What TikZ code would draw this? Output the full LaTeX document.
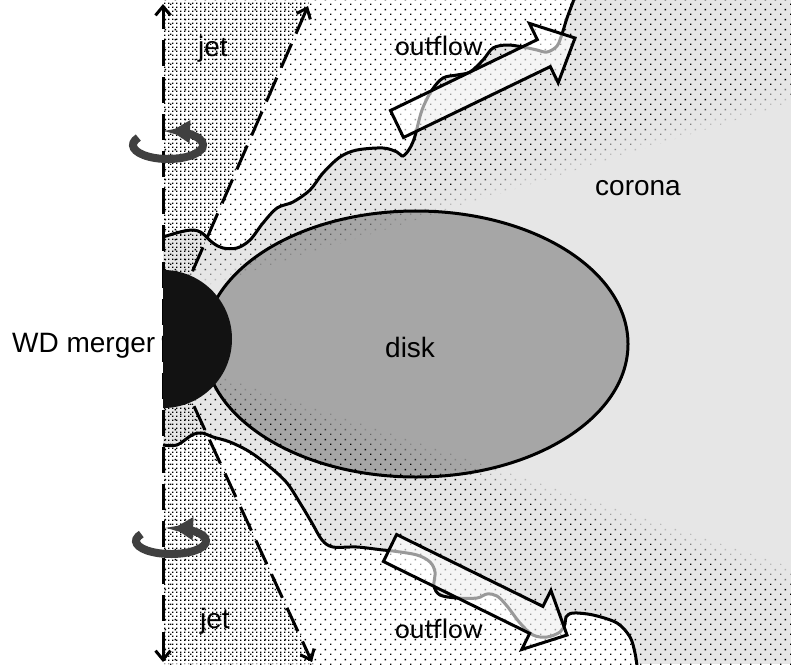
\documentclass[tikz,border=0pt]{standalone}
\usepackage{fontspec}
\setmainfont{Liberation Sans}
\newfontfamily\flowfont{Carlito}
\usetikzlibrary{arrows.meta,patterns}

% sparse staggered dots and a denser grid of dots
\pgfdeclarepatternformonly{sparsedots}{\pgfqpoint{0pt}{0pt}}{\pgfqpoint{10pt}{10pt}}{\pgfqpoint{10pt}{10pt}}{%
  \pgfpathrectangle{\pgfqpoint{0pt}{0pt}}{\pgfqpoint{1.6pt}{1.6pt}}%
  \pgfpathrectangle{\pgfqpoint{5pt}{5pt}}{\pgfqpoint{1.6pt}{1.6pt}}%
  \pgfusepath{fill}}
\pgfdeclarepatternformonly{densedots}{\pgfqpoint{0pt}{0pt}}{\pgfqpoint{4pt}{4pt}}{\pgfqpoint{4pt}{4pt}}{%
  \pgfpathrectangle{\pgfqpoint{0pt}{0pt}}{\pgfqpoint{1.7pt}{1.7pt}}%
  \pgfusepath{fill}}

\definecolor{coronagray}{HTML}{E6E6E6}
\definecolor{diskgray}{HTML}{A6A6A6}
\definecolor{spingray}{HTML}{404040}

% wavy fronts of the outflow
\def\TopFront{plot[smooth,tension=0.55] coordinates {(163,237) (180,232) (193,230) (202,233) (213,243) (223,248) (237,248) (250,240) (263,223) (277,208) (293,202) (310,190) (323,173) (340,157) (357,150) (383,148) (397,152) (403,156) (410,148) (415,136) (422,110) (432,90) (443,78) (457,75) (470,72) (483,60) (493,48) (507,45) (523,47) (537,50) (547,52) (557,46) (562,34) (567,18) (573,2) (574,-2)}}
\def\BottomFront{plot[smooth,tension=0.55] coordinates {(163,445) (177,445) (192,435) (202,433) (213,437) (230,442) (250,452) (270,467) (287,483) (300,503) (312,523) (322,540) (333,547) (357,547) (383,550) (393,551) (417,555) (430,562) (435,572) (434,586) (440,595) (457,598) (477,598) (487,594) (497,596) (507,606) (520,623) (533,635) (547,637) (560,632) (565,624) (566,617) (573,613) (593,615) (617,623) (630,637) (635,653) (637,666)}}
% wedge of the corona without dots, widened by #1
\newcommand\CoronaWedge[1]{(163,{299-#1}) -- (800,{100-#1}) -- (800,{570+#1}) -- (163,{357+#1}) -- cycle}

\begin{document}
\begin{tikzpicture}[x=1pt,y=-1pt,
  front/.style={draw=black,line width=3pt},
  axisline/.style={line width=3pt,dash pattern=on 26pt off 11pt,
    {Straight Barb[length=9pt,width=15pt]}-{Straight Barb[length=9pt,width=15pt]}},
  ray/.style={line width=3pt,dash pattern=on 26pt off 11pt,
    -{Straight Barb[length=9pt,width=15pt]}},
  flowarrow/.style={draw=black,line width=3pt,line join=miter,fill=white,fill opacity=0.6,draw opacity=1},
  spin/.style={draw=spingray,line width=8pt,-{Triangle[length=19pt,width=22pt]}},
  txt/.style={font=\fontsize{28}{33}\selectfont,inner sep=0pt,anchor=base west}]
\useasboundingbox (0,0) rectangle (791,664);
\fill[white] (0,0) rectangle (791,664);
\fill[coronagray] (163,0) rectangle (791,664);

% outer zones beyond the fronts
\fill[white] \TopFront -- (163,-2) -- cycle;
\fill[white] \BottomFront -- (163,666) -- cycle;

% disk body
\fill[diskgray] (416,344) ellipse [x radius=212, y radius=133];

% dotted envelope, fading towards the corona
\begin{scope}
  \clip (163,0) rectangle (791,664);
  \fill[pattern=sparsedots,even odd rule] (150,-10) rectangle (800,680) \CoronaWedge{24};
  \fill[pattern=sparsedots,even odd rule,fill opacity=0.7] \CoronaWedge{24} \CoronaWedge{16};
  \fill[pattern=sparsedots,even odd rule,fill opacity=0.45] \CoronaWedge{16} \CoronaWedge{8};
  \fill[pattern=sparsedots,even odd rule,fill opacity=0.2] \CoronaWedge{8} \CoronaWedge{0};
\end{scope}

% coordinates of the axis and jet cones
\coordinate (wd) at (163,339);
\coordinate (axisN) at (163,4);
\coordinate (axisS) at (163,662);
\coordinate (jetN) at (308,6);
\coordinate (jetS) at (312,662);

% jet cones
\fill[pattern=densedots] (wd) -- (310,0) -- (163,0) -- cycle;
\fill[pattern=densedots] (wd) -- (314,664) -- (163,664) -- cycle;

% fronts
\draw[front] \TopFront;
\draw[front] \BottomFront;

% disk outline
\draw[line width=3pt] (416,344) ellipse [x radius=212, y radius=133];

% rotation axis and jet edges
\draw[axisline] (axisS) -- (axisN);
\draw[ray] (wd) -- (jetN);
\draw[ray] (wd) -- (jetS);

% merger remnant
\fill[black!93] (163,270) arc[start angle=-90, end angle=90, radius=69] -- cycle;

% outflow arrows
\filldraw[flowarrow] (390.5,110.5) -- (537.3,39.6) -- (529.4,23.4) -- (575,38) -- (558.2,82.8) -- (550.3,66.6) -- (403.5,137.5) -- cycle;
\filldraw[flowarrow] (396.6,534.5) -- (542.9,606.4) -- (550.9,590.3) -- (567,635) -- (521.7,649.5) -- (529.7,633.4) -- (383.4,561.5) -- cycle;

% rotation arrows
\draw[spin] ([shift={(212:35 and 14)}]168,145) arc[start angle=212, end angle=-85, x radius=35, y radius=14];
\draw[spin] ([shift={(212:35 and 13)}]171,541) arc[start angle=212, end angle=-85, x radius=35, y radius=13];

% labels
\node[txt] (wdlabel) at (12,352) {WD merger};
\node[txt] (jettop) at (198,56) {jet};
\node[txt] (jetbottom) at (200,628) {jet};
\node[txt,font=\fontsize{28}{33}\selectfont\flowfont] (flowtop) at (395,55) {outflow};
\node[txt,font=\fontsize{28}{33}\selectfont\flowfont] (flowbottom) at (395,638) {outflow};
\node[txt] (corona) at (595,195) {corona};
\node[txt] (disk) at (385,357) {disk};
\end{tikzpicture}
\end{document}
